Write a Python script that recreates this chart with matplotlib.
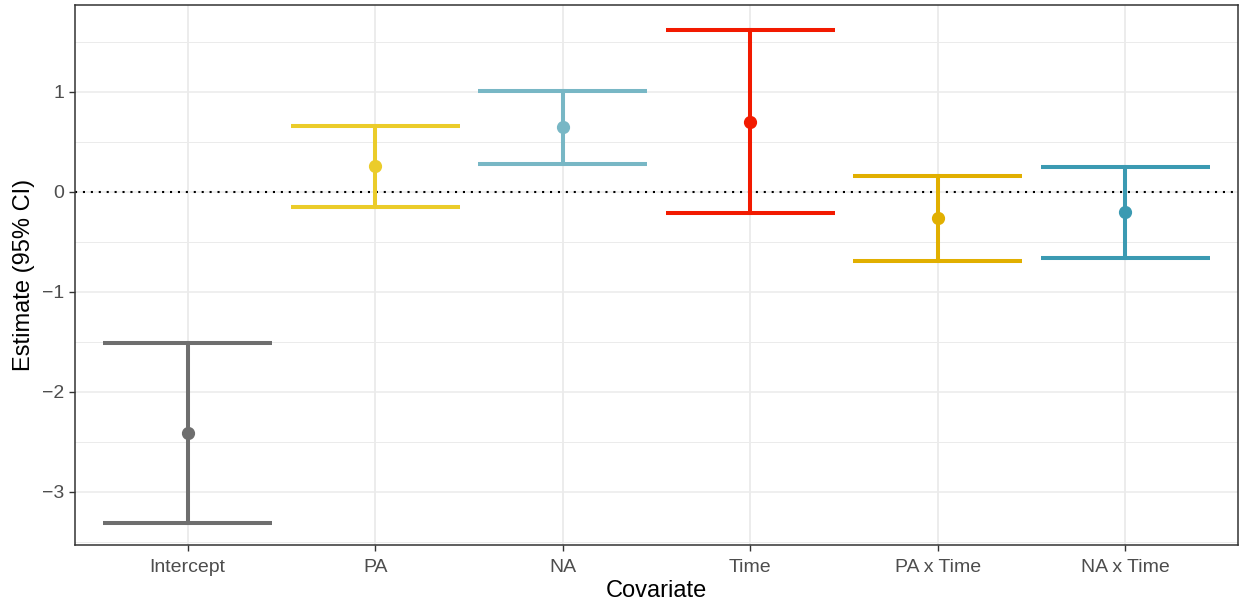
import matplotlib
matplotlib.use("Agg")
import matplotlib.pyplot as plt
import numpy as np

# coefficient estimates with 95% CI
covariates = ['Intercept', 'PA', 'NA', 'Time', 'PA x Time', 'NA x Time']
estimate = [-2.41, 0.26, 0.65, 0.70, -0.26, -0.20]
lower = [-3.31, -0.15, 0.28, -0.21, -0.69, -0.66]
upper = [-1.51, 0.66, 1.01, 1.62, 0.16, 0.25]
colors = ['#6E6E6E', '#EBCC2A', '#78B7C5', '#F21A00', '#E1AF00', '#3B9AB2']

plt.rcParams['font.family'] = ['Liberation Sans', 'DejaVu Sans']

fig = plt.figure(figsize=(12.39, 6.09), dpi=100)
ax = fig.add_axes([75/1239, 64/609, 1163/1239, 540/609])

x = np.arange(1, len(covariates) + 1)

# grid
for yv in np.arange(-3.5, 2.0, 0.5):
    lw = 1.1 if yv == int(yv) else 0.7
    ax.axhline(yv, color='#EBEBEB', lw=lw, zorder=0)
for xv in x:
    ax.axvline(xv, color='#EBEBEB', lw=1.3, zorder=0)

ax.axhline(0, color='black', lw=1.5, ls=(0, (1, 2.8)), zorder=1)

for i in range(len(covariates)):
    ax.plot([x[i], x[i]], [lower[i], upper[i]], color=colors[i], lw=2.9, zorder=2)
    ax.plot([x[i] - 0.45, x[i] + 0.45], [lower[i], lower[i]], color=colors[i], lw=2.9,
            solid_capstyle='butt', zorder=2)
    ax.plot([x[i] - 0.45, x[i] + 0.45], [upper[i], upper[i]], color=colors[i], lw=2.9,
            solid_capstyle='butt', zorder=2)
    ax.plot(x[i], estimate[i], 'o', color=colors[i], ms=8.5, zorder=3)

ax.set_xlim(0.4, 6.6)
ax.set_ylim(-3.53, 1.87)
ax.set_xticks(x)
ax.set_xticklabels(covariates)
ax.set_yticks([-3, -2, -1, 0, 1])
ax.set_yticklabels(['\u22123', '\u22122', '\u22121', '0', '1'])
ax.tick_params(colors='#333333', labelcolor='#4D4D4D', labelsize=14, length=4, width=1)
ax.tick_params(axis='x', pad=6)
for s in ax.spines.values():
    s.set_color('#333333')
    s.set_linewidth(1.1)

ax.set_xlabel('Covariate', fontsize=17, labelpad=3)
ax.set_ylabel('Estimate (95% CI)', fontsize=17, labelpad=5)

plt.savefig('out.png', dpi=100)
